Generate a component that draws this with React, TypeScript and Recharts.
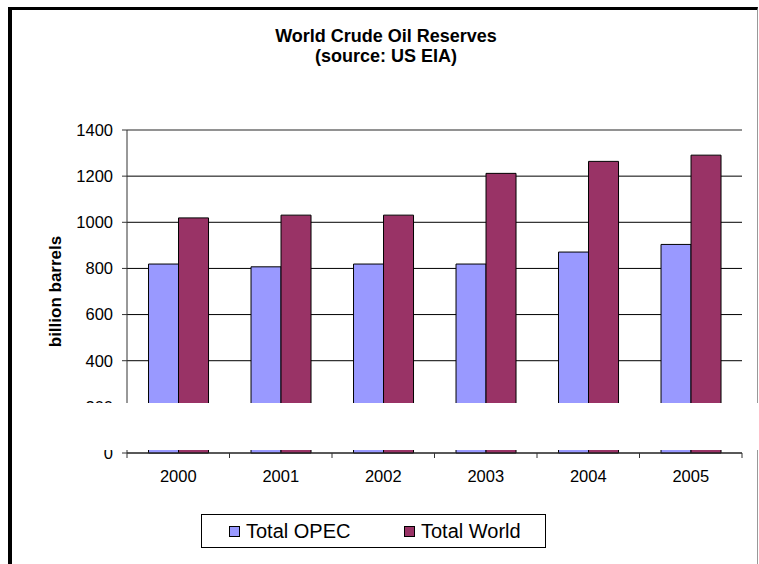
import { BarChart, Bar, XAxis, YAxis, CartesianGrid, ReferenceLine } from 'recharts';

const years = ['2000', '2001', '2002', '2003', '2004', '2005'];
const opec = [819, 807, 819, 819, 871, 904];
const world = [1019, 1031, 1031, 1212, 1264, 1291];
const yTicks = [0, 200, 400, 600, 800, 1000, 1200, 1400];

const series = [
  { key: 'opec', name: 'Total OPEC', color: '#9999FF' },
  { key: 'world', name: 'Total World', color: '#993366' },
];

const data = years.map((year, i) => ({ year, opec: opec[i], world: world[i] }));

const font = '"Liberation Sans", Arial, sans-serif';

function YearTick(props: any) {
  const { x, y, payload, index, visibleTicksCount } = props;
  const half = payload?.offset ?? 0;
  const last = index === visibleTicksCount - 1;
  return (
    <g>
      <line x1={x - half} x2={x - half} y1={y} y2={y + 5} stroke="#333" />
      {last && <line x1={x + half} x2={x + half} y1={y} y2={y + 5} stroke="#333" />}
      <text x={x} y={y + 29} textAnchor="middle" fontSize={16.5} fontFamily={font} fill="#000">
        {payload.value}
      </text>
    </g>
  );
}

function AxisTitle(props: any) {
  const vb = props.viewBox || { x: 0, y: 0, height: 0 };
  const cx = 55;
  const cy = vb.y + vb.height / 2;
  return (
    <text
      x={cx}
      y={cy}
      transform={`rotate(-90, ${cx}, ${cy})`}
      textAnchor="middle"
      dominantBaseline="central"
      fontSize={17}
      fontWeight="bold"
      fontFamily={font}
      fill="#000"
    >
      billion barrels
    </text>
  );
}

export default function App() {
  return (
    <div
      style={{
        position: 'absolute',
        left: 0,
        top: 0,
        width: 759,
        height: 564,
        overflow: 'hidden',
        background: '#fff',
        fontFamily: font,
      }}
    >
      <div
        style={{
          position: 'absolute',
          left: 8,
          top: 7,
          width: 745,
          height: 600,
          borderLeft: '4px solid #000',
          borderTop: '3px solid #000',
          borderRight: '1px solid #999',
        }}
      />
      <div
        style={{
          position: 'absolute',
          left: 186,
          top: 26,
          width: 400,
          textAlign: 'center',
          fontSize: 18,
          lineHeight: '20px',
          fontWeight: 'bold',
          color: '#000',
        }}
      >
        World Crude Oil Reserves
        <br />
        (source: US EIA)
      </div>
      <div style={{ position: 'absolute', left: 0, top: 0 }}>
        <BarChart
          width={759}
          height={564}
          data={data}
          margin={{ top: 130, right: 17, bottom: 81, left: 0 }}
          barCategoryGap="21%"
          barGap={0}
        >
          <CartesianGrid vertical={false} stroke="#000" />
          <XAxis
            dataKey="year"
            height={30}
            tickLine={false}
            tickSize={0}
            tickMargin={0}
            axisLine={{ stroke: '#333' }}
            tick={<YearTick />}
            interval={0}
          />
          <YAxis
            width={127}
            domain={[0, 1400]}
            ticks={yTicks}
            interval={0}
            tickSize={5}
            tickMargin={9}
            axisLine={{ stroke: '#333' }}
            tickLine={{ stroke: '#333' }}
            tick={{ fontSize: 16.5, fontFamily: font, fill: '#000' }}
            label={{ content: <AxisTitle /> }}
          />
          <YAxis
            yAxisId="r"
            orientation="right"
            width={0}
            tick={false}
            tickLine={false}
            axisLine={{ stroke: '#999', strokeWidth: 1.5 }}
          />
          <ReferenceLine y={1400} stroke="#999" strokeWidth={1.5} />
          {series.map((s) => (
            <Bar
              key={s.key}
              dataKey={s.key}
              name={s.name}
              fill={s.color}
              stroke="#000"
              strokeWidth={1}
              isAnimationActive={false}
            />
          ))}
        </BarChart>
      </div>
      <div
        style={{
          position: 'absolute',
          left: 201,
          top: 514,
          width: 343,
          height: 32,
          border: '1px solid #000',
          display: 'flex',
          alignItems: 'center',
          fontSize: 20,
          color: '#000',
        }}
      >
        {series.map((s, i) => (
          <div
            key={s.key}
            style={{
              position: 'absolute',
              left: i === 0 ? 27 : 202,
              top: 0,
              height: 32,
              display: 'flex',
              alignItems: 'center',
            }}
          >
            <span
              style={{
                display: 'inline-block',
                width: 9,
                height: 9,
                background: s.color,
                border: '1px solid #000',
                marginRight: 6,
              }}
            />
            <span>{s.name}</span>
          </div>
        ))}
      </div>
      <div
        style={{
          position: 'absolute',
          left: 13,
          top: 403,
          width: 746,
          height: 47,
          background: '#fff',
        }}
      />
    </div>
  );
}
